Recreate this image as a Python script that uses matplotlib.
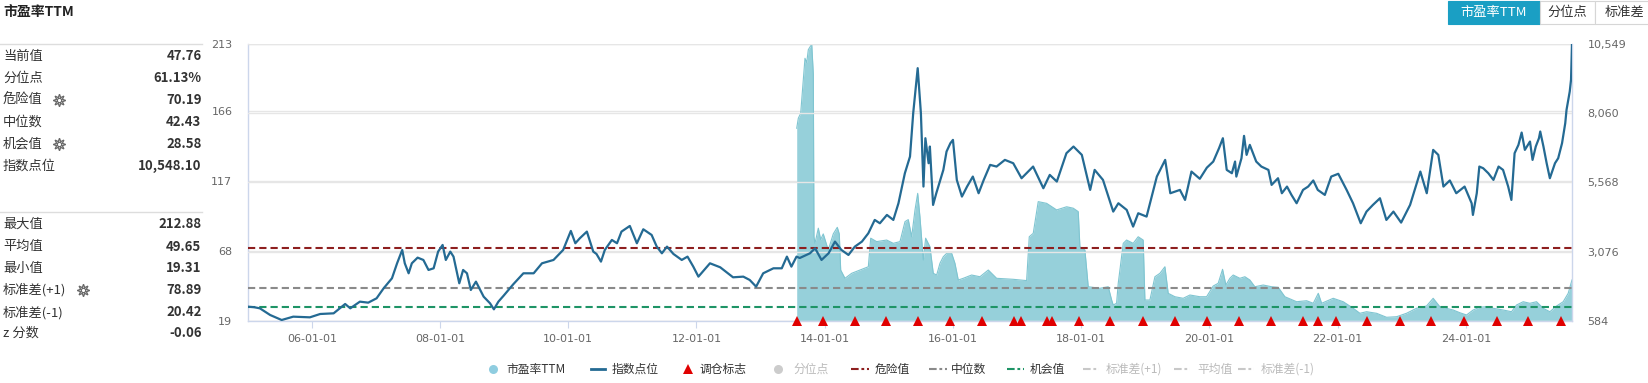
import matplotlib
matplotlib.use("Agg")
import matplotlib.pyplot as plt
from matplotlib.lines import Line2D
from matplotlib.patches import Rectangle

plt.rcParams['font.family'] = ['Noto Sans CJK SC', 'DejaVu Sans']
plt.rcParams['lines.scale_dashes'] = False

# ---- data (x in decimal years) ----
idx_t = [2005.00, 2005.10, 2005.19, 2005.35, 2005.53, 2005.71, 2005.97, 2006.13, 2006.34, 2006.52,
         2006.60, 2006.75, 2006.88, 2007.01, 2007.12, 2007.25, 2007.33, 2007.41, 2007.45, 2007.51,
         2007.56, 2007.65, 2007.74, 2007.82, 2007.90, 2007.97, 2008.04, 2008.09, 2008.16, 2008.21,
         2008.30, 2008.36, 2008.42, 2008.48, 2008.56, 2008.68, 2008.78, 2008.84, 2008.91, 2008.99,
         2009.14, 2009.30, 2009.46, 2009.59, 2009.77, 2009.92, 2010.04, 2010.11, 2010.18, 2010.29,
         2010.39, 2010.44, 2010.51, 2010.57, 2010.68, 2010.76, 2010.83, 2010.96, 2011.07, 2011.17,
         2011.30, 2011.38, 2011.46, 2011.54, 2011.64, 2011.77, 2011.86, 2011.95, 2012.03, 2012.21,
         2012.37, 2012.57, 2012.73, 2012.83, 2012.93, 2013.04, 2013.20, 2013.33, 2013.41, 2013.48,
         2013.56, 2013.61, 2013.77, 2013.85, 2013.95, 2014.06, 2014.16, 2014.26, 2014.37, 2014.47,
         2014.58, 2014.68, 2014.78, 2014.86, 2014.97, 2015.07, 2015.15, 2015.25, 2015.33, 2015.38,
         2015.45, 2015.50, 2015.54, 2015.57, 2015.62, 2015.64, 2015.69, 2015.74, 2015.85, 2015.90,
         2015.96, 2016.00, 2016.06, 2016.14, 2016.22, 2016.31, 2016.40, 2016.48, 2016.58, 2016.68,
         2016.81, 2016.94, 2017.07, 2017.25, 2017.41, 2017.51, 2017.62, 2017.77, 2017.88, 2018.01,
         2018.14, 2018.21, 2018.34, 2018.50, 2018.58, 2018.71, 2018.81, 2018.89, 2019.02, 2019.18,
         2019.31, 2019.39, 2019.54, 2019.62, 2019.72, 2019.85, 2019.96, 2020.06, 2020.15, 2020.21,
         2020.27, 2020.35, 2020.40, 2020.42, 2020.50, 2020.54, 2020.58, 2020.63, 2020.73, 2020.81,
         2020.92, 2020.97, 2021.07, 2021.13, 2021.21, 2021.28, 2021.36, 2021.46, 2021.54, 2021.62,
         2021.69, 2021.80, 2021.90, 2022.01, 2022.14, 2022.24, 2022.36, 2022.45, 2022.55, 2022.66,
         2022.76, 2022.87, 2022.99, 2023.13, 2023.29, 2023.39, 2023.49, 2023.57, 2023.65, 2023.75,
         2023.85, 2023.98, 2024.09, 2024.11, 2024.17, 2024.21, 2024.27, 2024.35, 2024.43, 2024.51,
         2024.58, 2024.66, 2024.71, 2024.76, 2024.82, 2024.87, 2024.92, 2025.00, 2025.04, 2025.09,
         2025.14, 2025.16, 2025.21, 2025.26, 2025.31, 2025.39, 2025.44, 2025.50, 2025.55, 2025.57,
         2025.62, 2025.64, 2025.655]
idx_v = [1100, 1080, 1040, 800, 620, 740, 716, 836, 860, 1196,
         1040, 1280, 1244, 1400, 1760, 2120, 2660, 3140, 2660, 2300,
         2660, 2864, 2780, 2420, 2480, 3080, 3320, 2780, 3080, 2900,
         1940, 2420, 2300, 1700, 2000, 1460, 1220, 1004, 1280, 1490,
         1900, 2300, 2300, 2660, 2780, 3140, 3824, 3380, 3560, 3800,
         3080, 2996, 2720, 3140, 3500, 3380, 3800, 4004, 3380, 3884,
         3680, 3260, 3020, 3260, 2996, 2780, 2900, 2540, 2180, 2660,
         2516, 2156, 2180, 2060, 1820, 2300, 2480, 2480, 2900, 2540,
         2900, 2850, 3020, 3200, 2780, 3020, 3440, 3140, 2960, 3260,
         3440, 3740, 4220, 4100, 4400, 4220, 4820, 5900, 6500, 8060,
         9680, 8060, 5420, 7160, 6260, 6860, 4760, 5180, 6020, 6680,
         6980, 7100, 5660, 5060, 5420, 5780, 5180, 5660, 6200, 6140,
         6380, 6260, 5720, 6140, 5360, 5840, 5600, 6620, 6860, 6560,
         5300, 6020, 5660, 4520, 4820, 4580, 3980, 4460, 4340, 5780,
         6380, 5180, 5300, 4940, 5960, 5700, 6100, 6320, 6800, 7160,
         6020, 5900, 6320, 5780, 6440, 7244, 6560, 6920, 6320, 6140,
         6020, 5480, 5720, 5180, 5420, 5120, 4820, 5300, 5420, 5640,
         5300, 5120, 5780, 5880, 5300, 4820, 4100, 4520, 4760, 5000,
         4220, 4520, 4124, 4760, 5960, 5180, 6740, 6560, 5420, 5640,
         5180, 5420, 4820, 4400, 5180, 6140, 6080, 5900, 5660, 6140,
         6020, 5420, 4940, 6620, 6920, 7364, 6740, 7040, 6380, 6860,
         7160, 7400, 6860, 6260, 5720, 6260, 6440, 6980, 7700, 8180,
         8840, 9260, 10548.10]

pe_t = [2013.563, 2013.588, 2013.625, 2013.666, 2013.692, 2013.719, 2013.744, 2013.797, 2013.822, 2013.832,
        2013.848, 2013.900, 2013.937, 2013.977, 2014.055, 2014.133, 2014.196, 2014.227, 2014.249, 2014.316,
        2014.420, 2014.550, 2014.680, 2014.717, 2014.810, 2014.966, 2015.069, 2015.174, 2015.252, 2015.303,
        2015.356, 2015.408, 2015.450, 2015.485, 2015.537, 2015.574, 2015.641, 2015.693, 2015.746, 2015.797,
        2015.849, 2015.902, 2015.980, 2016.031, 2016.083, 2016.161, 2016.291, 2016.421, 2016.551, 2016.681,
        2016.940, 2017.149, 2017.190, 2017.252, 2017.330, 2017.461, 2017.617, 2017.773, 2017.876, 2017.954,
        2017.980, 2018.058, 2018.110, 2018.292, 2018.422, 2018.475, 2018.500, 2018.552, 2018.578, 2018.656,
        2018.708, 2018.811, 2018.889, 2018.967, 2018.994, 2019.072, 2019.150, 2019.228, 2019.306, 2019.357,
        2019.462, 2019.591, 2019.696, 2019.851, 2019.956, 2020.059, 2020.137, 2020.205, 2020.257, 2020.319,
        2020.371, 2020.475, 2020.553, 2020.631, 2020.709, 2020.839, 2020.969, 2021.073, 2021.177, 2021.360,
        2021.516, 2021.620, 2021.698, 2021.750, 2021.931, 2022.087, 2022.243, 2022.347, 2022.451, 2022.607,
        2022.763, 2022.919, 2023.074, 2023.230, 2023.386, 2023.490, 2023.594, 2023.802, 2023.906, 2024.010,
        2024.114, 2024.218, 2024.322, 2024.426, 2024.582, 2024.712, 2024.790, 2024.894, 2024.998, 2025.102,
        2025.206, 2025.310, 2025.415, 2025.518, 2025.596, 2025.655]
pe_v = [154, 161, 164.5, 188, 203, 200, 209, 212.88, 192, 78,
        73.4, 84, 76, 80, 68.7, 80, 84.6, 80, 54.7, 48.9,
        52.4, 54.7, 57, 77, 74.6, 75.7, 73.4, 74.6, 88.6, 90,
        78, 96.8, 108.4, 92, 61.7, 77, 71, 52.4, 51.2, 59.4,
        64, 66.4, 66.4, 59.4, 47.7, 48.9, 51.2, 50, 54.7, 48.9,
        48.2, 47.3, 78, 80.4, 102.6, 101.4, 96.8, 99, 98, 95.6,
        71, 68.7, 43, 41.9, 43, 33.7, 30.2, 31.4, 45.4, 73.4,
        75.7, 73.4, 78, 75.7, 33.7, 33.7, 50, 52.4, 57, 38.4,
        36, 34.9, 37.2, 36, 36, 43.5, 45.4, 55.2, 44.2, 48.9,
        51.2, 48.9, 50, 47.7, 43, 44.2, 43, 42.6, 36, 32.5,
        33.2, 31.4, 38.4, 31.4, 34.9, 32.5, 27.9, 24.4, 25.5, 24.4,
        21.6, 22, 24.4, 27.9, 29.5, 34.9, 29, 26.7, 24.8, 23.2,
        26.7, 28.7, 29, 27.9, 26.7, 25.5, 30.2, 32.5, 31.4, 32.5,
        27.9, 25.5, 29.5, 32.5, 38.4, 47.76]

# rebalancing markers
trade_t = [2013.56, 2013.97, 2014.47, 2014.96, 2015.46, 2015.96, 2016.46, 2016.95, 2017.06, 2017.46,
           2017.55, 2017.96, 2018.45, 2018.97, 2019.47, 2019.96, 2020.46, 2020.96, 2021.46, 2021.70,
           2021.97, 2022.46, 2022.97, 2023.46, 2023.97, 2024.48, 2024.97, 2025.48]

danger, median, chance = 70.19, 42.43, 28.58

pe_ticks = [19, 68, 117, 166, 213]
idx_ticks = [584, 3076, 5568, 8060, 10549]
idx_tick_labels = ['584', '3,076', '5,568', '8,060', '10,549']
x_ticks = [2006, 2008, 2010, 2012, 2014, 2016, 2018, 2020, 2022, 2024]
x_tick_labels = ['06-01-01', '08-01-01', '10-01-01', '12-01-01', '14-01-01',
                 '16-01-01', '18-01-01', '20-01-01', '22-01-01', '24-01-01']

stats1_labels = ['当前值', '分位点', '危险值', '中位数', '机会值', '指数点位']
stats1_values = ['47.76', '61.13%', '70.19', '42.43', '28.58', '10,548.10']
stats2_labels = ['最大值', '平均值', '最小值', '标准差(+1)', '标准差(-1)', 'z 分数']
stats2_values = ['212.88', '49.65', '19.31', '78.89', '20.42', '-0.06']

# ---- colours ----
C_AREA = '#96d0da'
C_AREA_EDGE = '#7fc5d1'
C_LINE = '#246a93'
C_RED = '#8e1f1f'
C_GRAY = '#8a8a8a'
C_GREEN = '#1e9466'
C_TRI = '#e00000'
C_FADE = '#c8c8c8'

W, H = 1649, 383
fig = plt.figure(figsize=(W / 100, H / 100), dpi=100)


def fx(x):
    return x / W


def fy(y):
    return 1 - y / H


ax = fig.add_axes([fx(247.7), fy(321), fx(1572.3) - fx(247.7), fy(44) - fy(321)])
ax2 = ax.twinx()

ax.fill_between(pe_t, pe_v, pe_ticks[0], color=C_AREA, lw=0, zorder=1)
ax.plot(pe_t, pe_v, color=C_AREA_EDGE, lw=0.8, zorder=1.5)
dash = (0, (5.2, 2.9))
ax.axhline(danger, color=C_RED, lw=1.5, ls=dash, zorder=3)
ax.axhline(median, color=C_GRAY, lw=1.5, ls=dash, zorder=3)
ax.axhline(chance, color=C_GREEN, lw=1.5, ls=dash, zorder=3)

ax2.plot(idx_t, idx_v, color=C_LINE, lw=1.6, zorder=3)
ax2.plot(trade_t, [idx_ticks[0]] * len(trade_t), '^', color=C_TRI, ms=7, mew=0,
         clip_on=False, zorder=5)

ax.set_xlim(2005.0, 2025.66)
ax.set_ylim(pe_ticks[0], pe_ticks[-1])
ax2.set_ylim(idx_ticks[0], idx_ticks[-1])

ax.set_yticks(pe_ticks)
ax.set_yticklabels([str(v) for v in pe_ticks])
ax2.set_yticks(idx_ticks)
ax2.set_yticklabels(idx_tick_labels)
ax.set_xticks(x_ticks)
ax.set_xticklabels(x_tick_labels)

for a in (ax, ax2):
    a.grid(axis='y', color='#e6e6e6', lw=1)
    a.set_axisbelow(True)
    for s in a.spines.values():
        s.set_visible(False)
for s in ('left', 'bottom', 'right'):
    ax.spines[s].set_visible(True)
    ax.spines[s].set_color('#ccd6eb')
    ax.spines[s].set_linewidth(1)

ax.tick_params(axis='y', length=0, pad=11, labelsize=8, labelcolor='#666666')
ax2.tick_params(axis='y', length=0, pad=11, labelsize=8, labelcolor='#666666')
ax.tick_params(axis='x', length=5, color='#ccd6eb', pad=4, labelsize=8, labelcolor='#666666')
for lab in ax.get_yticklabels() + ax2.get_yticklabels() + ax.get_xticklabels():
    lab.set_family('DejaVu Sans')

# ---- title and stats panel ----
fig.text(fx(3), fy(12), '市盈率TTM', fontsize=10, fontweight='bold', color='#222222', va='center')

for ysep in (44.3, 211.7):
    fig.add_artist(Line2D([fx(0), fx(202)], [fy(ysep), fy(ysep)], color='#dddddd', lw=1,
                          transform=fig.transFigure))

rows1_y = [56, 78.3, 100, 122.3, 144, 166]
rows2_y = [224.3, 246.7, 268.3, 290, 312.3, 333.3]
for labels, values, ys in ((stats1_labels, stats1_values, rows1_y),
                           (stats2_labels, stats2_values, rows2_y)):
    for lab, val, y in zip(labels, values, ys):
        fig.text(fx(3), fy(y), lab, fontsize=9.5, color='#333333', va='center')
        fig.text(fx(201.5), fy(y), val, fontsize=9.5, fontweight='bold', color='#333333',
                 va='center', ha='right')

# gear icons next to editable values
for gx, gy in ((59, rows1_y[2]), (59, rows1_y[4]), (83.5, rows2_y[3])):
    fig.add_artist(Line2D([fx(gx)], [fy(gy)], marker=(8, 1, 0), ms=9, mfc='white', mec='#666666',
                          mew=0.9, transform=fig.transFigure))
    fig.add_artist(Line2D([fx(gx)], [fy(gy)], marker='o', ms=3.2, mfc='white', mec='#666666',
                          mew=0.9, transform=fig.transFigure))

# ---- toggle buttons ----
buttons = [('市盈率TTM', 1448, 1540, True), ('分位点', 1540, 1595, False), ('标准差', 1595, 1649, False)]
for txt, x0, x1, active in buttons:
    fig.add_artist(Rectangle((fx(x0), fy(24)), fx(x1) - fx(x0), fy(1) - fy(24),
                             transform=fig.transFigure,
                             facecolor='#1a9fc4' if active else 'white',
                             edgecolor='#1a9fc4' if active else '#d6d6d6', lw=0.8))
    fig.text(fx((x0 + x1) / 2 + (0 if x1 < W else 3)), fy(12.5), txt, fontsize=9.5,
             color='white' if active else '#333333', ha='center', va='center')

# ---- legend ----
ly = 369
leg_text = [('市盈率TTM', 506, '#333333'), ('指数点位', 612, '#333333'), ('调仓标志', 700, '#333333'),
            ('分位点', 793, '#bbbbbb'), ('危险值', 875, '#333333'), ('中位数', 951, '#333333'),
            ('机会值', 1030, '#333333'), ('标准差(+1)', 1106, '#bbbbbb'), ('平均值', 1197, '#bbbbbb'),
            ('标准差(-1)', 1260.5, '#bbbbbb')]
for txt, x, col in leg_text:
    fig.text(fx(x), fy(ly), txt, fontsize=8.5, color=col, va='center')

fig.add_artist(Line2D([fx(493)], [fy(ly)], marker='o', ms=6.5, color='#8fcde0', mew=0,
                      transform=fig.transFigure))
fig.add_artist(Line2D([fx(590.6), fx(605)], [fy(ly), fy(ly)], color=C_LINE, lw=2,
                      transform=fig.transFigure))
fig.add_artist(Line2D([fx(688)], [fy(ly)], marker='^', ms=7, color=C_TRI, mew=0,
                      transform=fig.transFigure))
fig.add_artist(Line2D([fx(778)], [fy(ly)], marker='o', ms=6.5, color='#cccccc', mew=0,
                      transform=fig.transFigure))
leg_dash = (0, (5.5, 2, 2, 2))
for x0, x1, col in ((851, 869, C_RED), (929, 947, C_GRAY), (1007, 1024, C_GREEN),
                    (1083, 1099, C_FADE), (1174.5, 1190.5, C_FADE), (1237.6, 1253.7, C_FADE)):
    fig.add_artist(Line2D([fx(x0), fx(x1)], [fy(ly), fy(ly)], color=col, lw=1.5, ls=leg_dash,
                          transform=fig.transFigure))

fig.savefig('out.png', dpi=100)
